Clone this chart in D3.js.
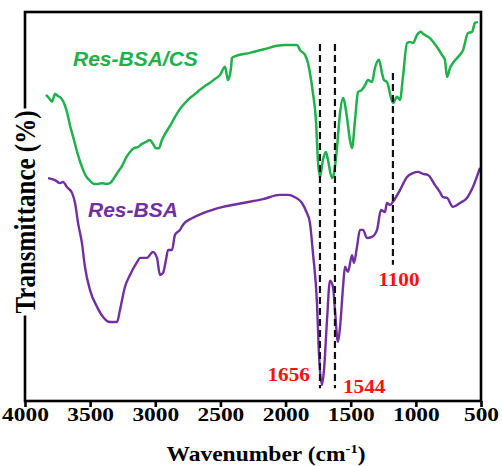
<html>
<script src='https://d3js.org/d3.v7.min.js'></script>
<style>
    body { margin: 0; background: #fff; }
    .serif { font-family: 'Liberation Serif', 'Times New Roman', serif; font-weight: bold; }
    .sans { font-family: 'Liberation Sans', Arial, sans-serif; font-weight: bold; font-style: italic; }
</style>

<body onload='init()'>
    <svg width=502 height=466></svg>
    <script>
        // series: [wavenumber, transmittance (arbitrary %)]
        const resBsaCs = [
            [3839, 78.7], [3816, 77.9], [3793, 76.9], [3770, 78.9], [3747, 78.4], [3724, 77.9], [3701, 76.6],
            [3678, 74.3], [3655, 70.9], [3624, 67.1], [3593, 63.2], [3563, 60.2], [3532, 57.8], [3501, 56.6],
            [3470, 55.8], [3440, 55.8], [3409, 56.0], [3378, 55.8], [3348, 56.0], [3317, 57.3], [3286, 58.9],
            [3256, 60.4], [3225, 62.5], [3194, 64.0], [3163, 65.0], [3133, 65.3], [3102, 66.1], [3071, 66.6],
            [3041, 67.1], [3018, 66.1], [2995, 65.0], [2972, 65.0], [2949, 67.1], [2926, 68.6], [2887, 70.7],
            [2849, 73.0], [2810, 75.1], [2772, 76.6], [2734, 77.9], [2695, 78.9], [2657, 80.0], [2619, 81.0],
            [2580, 81.8], [2542, 82.8], [2503, 83.8], [2465, 85.9], [2442, 82.5], [2419, 85.6], [2411, 88.2],
            [2381, 88.7], [2273, 89.5], [2158, 90.5], [2066, 91.3], [2005, 91.5], [1912, 91.5], [1889, 90.2],
            [1851, 89.0], [1828, 86.9], [1813, 84.3], [1790, 79.2], [1767, 72.2], [1752, 62.0], [1736, 57.6],
            [1713, 62.0], [1690, 64.0], [1675, 62.0], [1644, 57.3], [1628, 58.6], [1605, 65.3], [1582, 74.0],
            [1559, 77.9], [1529, 73.0], [1506, 67.1], [1490, 65.0], [1467, 72.2], [1444, 79.4], [1414, 80.0],
            [1390, 81.2], [1367, 82.5], [1337, 82.0], [1314, 85.6], [1283, 87.7], [1260, 84.3], [1245, 82.5],
            [1222, 82.0], [1176, 76.6], [1145, 78.2], [1122, 77.4], [1099, 83.3], [1068, 92.0], [1045, 92.3],
            [1022, 92.0], [991, 94.1], [961, 94.9], [945, 94.4], [892, 93.3], [838, 91.0], [800, 89.0],
            [777, 87.7], [761, 83.3], [738, 85.6], [715, 86.9], [677, 88.4], [638, 90.2], [600, 94.6],
            [569, 94.9], [546, 97.2], [523, 97.4]
        ];
        const resBsa = [
            [3823, 57.3], [3770, 56.8], [3731, 56.0], [3708, 56.3], [3678, 55.0], [3639, 53.5], [3616, 50.9],
            [3593, 45.8], [3563, 40.6], [3540, 34.5], [3501, 28.5], [3447, 24.2], [3401, 21.6], [3348, 20.3],
            [3294, 20.3], [3271, 23.4], [3233, 29.3], [3194, 32.4], [3140, 35.7], [3117, 36.8], [3064, 36.8],
            [3018, 38.3], [2987, 36.8], [2964, 32.4], [2941, 32.9], [2918, 36.3], [2902, 38.8], [2872, 38.8],
            [2849, 42.7], [2810, 44.0], [2787, 45.3], [2718, 47.0], [2634, 48.3], [2480, 49.9], [2327, 50.9],
            [2173, 51.9], [2043, 53.0], [1981, 53.0], [1928, 52.4], [1874, 50.9], [1836, 48.3], [1813, 45.8],
            [1790, 38.1], [1759, 25.2], [1744, 12.3], [1721, 4.1], [1705, 8.0], [1682, 20.8], [1659, 30.9],
            [1636, 29.3], [1621, 23.4], [1598, 15.2], [1582, 19.0], [1559, 29.3], [1544, 34.5], [1521, 33.2],
            [1490, 37.5], [1475, 35.5], [1452, 39.6], [1429, 44.0], [1406, 44.0], [1375, 41.9], [1337, 42.2],
            [1298, 44.0], [1268, 49.1], [1237, 48.6], [1222, 50.9], [1199, 50.4], [1176, 51.2], [1122, 54.2],
            [1068, 57.6], [1022, 58.6], [984, 58.9], [945, 58.4], [907, 58.1], [853, 55.5], [815, 53.7],
            [792, 52.4], [761, 52.2], [715, 49.9], [661, 50.9], [608, 52.2], [562, 55.0], [508, 59.9]
        ];
        const seriesNames = ['Res-BSA/CS', 'Res-BSA'];
        const xTicks = [4000, 3500, 3000, 2500, 2000, 1500, 1000, 500];
        // dashed marker lines: wavenumber, top and bottom in transmittance units
        const markX = [1736, 1621, 1176];
        const markTop = [91.8, 91.8, 84.3];
        const markBottom = [3.3, 3.3, 35.0];
        const markLabels = ['1656', '1544', '1100'];

        function init() {
            const green = '#20b04c', purple = '#7030a0', red = '#ff1010';
            const svg = d3.select('svg');
            const x = d3.scaleLinear().domain([4000, 500]).range([25, 481]);
            const y = d3.scaleLinear().domain([0, 100]).range([401, 12]);

            const line = d3.line()
                .x(d => x(d[0]))
                .y(d => y(d[1]))
                .curve(d3.curveMonotoneX);

            svg.append('path').datum(resBsaCs)
                .attr('d', line).attr('fill', 'none')
                .attr('stroke', green).attr('stroke-width', 2.5).attr('stroke-linejoin', 'round');
            svg.append('path').datum(resBsa)
                .attr('d', line).attr('fill', 'none')
                .attr('stroke', purple).attr('stroke-width', 2.4).attr('stroke-linejoin', 'round');

            // dashed lines
            svg.selectAll('.mark').data(markX).enter().append('line')
                .attr('x1', d => x(d)).attr('x2', d => x(d))
                .attr('y1', (d, i) => y(markTop[i])).attr('y2', (d, i) => y(markBottom[i]))
                .attr('stroke', '#111').attr('stroke-width', 2.2).attr('stroke-dasharray', '7,4');

            // peak labels
            const lab = [
                { dx: -10, t: 5.1, anchor: 'end' },
                { dx: 8, t: 2.1, anchor: 'start' },
                { dx: 6, t: 29.6, anchor: 'middle' }
            ];
            markLabels.forEach((s, i) => {
                svg.append('text').attr('class', 'serif')
                    .attr('transform', 'translate(' + (x(markX[i]) + lab[i].dx) + ',' + y(lab[i].t) + ') scale(1.12,1)')
                    .attr('text-anchor', lab[i].anchor)
                    .attr('font-size', 19).attr('fill', red)
                    .text(s);
            });

            // legend texts
            svg.append('text').attr('class', 'sans').attr('x', 73).attr('y', 66)
                .attr('font-size', 21).attr('fill', green).text(seriesNames[0]);
            svg.append('text').attr('class', 'sans').attr('x', 88).attr('y', 217)
                .attr('font-size', 21).attr('fill', purple).text(seriesNames[1]);

            // frame
            svg.append('rect')
                .attr('x', x(4000)).attr('y', y(100))
                .attr('width', x(500) - x(4000)).attr('height', y(0) - y(100))
                .attr('fill', 'none').attr('stroke', '#000').attr('stroke-width', 2.6);

            // bottom axis
            const ax = svg.append('g')
                .attr('transform', 'translate(0,' + y(0) + ')')
                .call(d3.axisBottom(x).tickValues(xTicks).tickFormat(d3.format('d'))
                    .tickSize(6).tickSizeOuter(0));
            ax.select('.domain').remove();
            ax.selectAll('line').attr('stroke', '#000').attr('stroke-width', 2.6);
            ax.selectAll('text')
                .attr('class', 'serif')
                .attr('font-size', 19.5).attr('fill', '#000')
                .attr('y', 0).attr('dy', 0)
                .attr('transform', 'translate(0,20) scale(1.2,1)');

            // x title
            const xt = svg.append('text').attr('class', 'serif')
                .attr('transform', 'translate(266,461) scale(1.12,1)')
                .attr('text-anchor', 'middle').attr('font-size', 21).attr('fill', '#000');
            xt.append('tspan').text('Wavenumber (cm');
            xt.append('tspan').attr('dy', -8).attr('font-size', 13).text('-1');
            xt.append('tspan').attr('dy', 8).text(')');

            // y title, with white box hiding the frame behind it
            const yg = svg.append('g')
                .attr('transform', 'translate(35,212) scale(1.15,1) rotate(-90)');
            const ytxt = yg.append('text').attr('class', 'serif')
                .attr('text-anchor', 'middle').attr('font-size', 25).attr('fill', '#000')
                .text('Transmittance (%)');
            const bb = ytxt.node().getBBox();
            yg.insert('rect', 'text')
                .attr('x', bb.x - 2).attr('y', bb.y)
                .attr('width', bb.width + 4).attr('height', bb.height)
                .attr('fill', '#fff');
        }
    </script>
</body>

</html>
